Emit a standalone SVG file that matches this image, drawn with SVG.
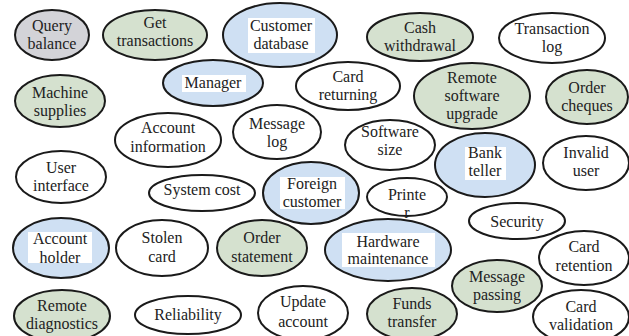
<svg xmlns="http://www.w3.org/2000/svg" width="629" height="336" viewBox="0 0 629 336">
<style>
ellipse{stroke:#1a1a1a;stroke-width:2}
.w{fill:#ffffff}
.g{fill:#d5e1cf}
.b{fill:#cfe0f3}
.q{fill:#d3d3d8}
.bg{fill:#ffffff;stroke:none}
text{font-family:"Liberation Serif","Times New Roman",serif;font-size:16px;fill:#222;text-anchor:middle}
</style>
<rect width="629" height="336" fill="#ffffff"/>
<g id="connectors"></g>
<g id="query-balance"><ellipse class="q" cx="52" cy="35" rx="37" ry="25"/><text x="52" y="31">Query</text><text x="52" y="49">balance</text></g>
<g id="get-transactions"><ellipse class="g" cx="155" cy="35" rx="52" ry="25"/><text x="155" y="28">Get</text><text x="155" y="46">transactions</text></g>
<g id="customer-database"><ellipse class="b" cx="280" cy="35" rx="57" ry="32"/><rect class="bg" x="248" y="18" width="67" height="35"/><text x="281" y="31">Customer</text><text x="281" y="49">database</text></g>
<g id="cash-withdrawal"><ellipse class="g" cx="420" cy="37" rx="53" ry="24"/><text x="420" y="33">Cash</text><text x="420" y="51">withdrawal</text></g>
<g id="transaction-log"><ellipse class="w" cx="552" cy="38" rx="53" ry="25"/><text x="552" y="34">Transaction</text><text x="552" y="52">log</text></g>
<g id="manager"><ellipse class="b" cx="213" cy="83" rx="50" ry="23"/><rect class="bg" x="182" y="75" width="64" height="17"/><text x="213" y="88">Manager</text></g>
<g id="card-returning"><ellipse class="w" cx="348" cy="86" rx="52" ry="24"/><text x="348" y="82">Card</text><text x="348" y="100">returning</text></g>
<g id="remote-software-upgrade"><ellipse class="g" cx="472" cy="96" rx="58" ry="33"/><text x="472" y="83">Remote</text><text x="472" y="101">software</text><text x="472" y="119">upgrade</text></g>
<g id="order-cheques"><ellipse class="g" cx="587" cy="97" rx="41" ry="27"/><text x="587" y="93">Order</text><text x="587" y="111">cheques</text></g>
<g id="machine-supplies"><ellipse class="g" cx="60" cy="101" rx="45" ry="26"/><text x="60" y="98">Machine</text><text x="60" y="116">supplies</text></g>
<g id="account-information"><ellipse class="w" cx="168" cy="140" rx="53" ry="27"/><text x="168" y="133">Account</text><text x="168" y="152">information</text></g>
<g id="message-log"><ellipse class="w" cx="277" cy="132" rx="44" ry="27"/><text x="277" y="129">Message</text><text x="277" y="147">log</text></g>
<g id="software-size"><ellipse class="w" cx="390" cy="145" rx="45" ry="25"/><text x="390" y="137">Software</text><text x="390" y="155">size</text></g>
<g id="bank-teller"><ellipse class="b" cx="485" cy="165" rx="50" ry="32"/><rect class="bg" x="465" y="147" width="41" height="33"/><text x="485" y="158">Bank</text><text x="485" y="176">teller</text></g>
<g id="invalid-user"><ellipse class="w" cx="586" cy="163" rx="43" ry="27"/><text x="586" y="158">Invalid</text><text x="586" y="176">user</text></g>
<g id="user-interface"><ellipse class="w" cx="61" cy="177" rx="45" ry="26"/><text x="61" y="173">User</text><text x="61" y="191">interface</text></g>
<g id="system-cost"><ellipse class="w" cx="202" cy="193" rx="53" ry="18"/><text x="202" y="195">System cost</text></g>
<g id="foreign-customer"><ellipse class="b" cx="311" cy="193" rx="48" ry="31"/><rect class="bg" x="280" y="177" width="65" height="32"/><text x="312" y="189">Foreign</text><text x="312" y="207">customer</text></g>
<g id="printer"><ellipse class="w" cx="407" cy="197" rx="40" ry="19"/><text x="407" y="200">Printe</text><text x="407" y="218">r</text></g>
<g id="security"><ellipse class="w" cx="517" cy="221" rx="48" ry="18"/><text x="517" y="227">Security</text></g>
<g id="account-holder"><ellipse class="b" cx="61" cy="248" rx="48" ry="30"/><rect class="bg" x="28" y="232" width="64" height="31"/><text x="60" y="244">Account</text><text x="60" y="263">holder</text></g>
<g id="stolen-card"><ellipse class="w" cx="162" cy="248" rx="46" ry="28"/><text x="162" y="243">Stolen</text><text x="162" y="262">card</text></g>
<g id="order-statement"><ellipse class="g" cx="262" cy="248" rx="45" ry="28"/><text x="262" y="243">Order</text><text x="262" y="262">statement</text></g>
<g id="hardware-maintenance"><ellipse class="b" cx="388" cy="250" rx="63" ry="31"/><rect class="bg" x="342" y="233" width="93" height="34"/><text x="388" y="247">Hardware</text><text x="388" y="264">maintenance</text></g>
<g id="card-retention"><ellipse class="w" cx="584" cy="258" rx="45" ry="27"/><text x="584" y="252">Card</text><text x="584" y="271">retention</text></g>
<g id="message-passing"><ellipse class="g" cx="497" cy="286" rx="45" ry="26"/><text x="497" y="282">Message</text><text x="497" y="300">passing</text></g>
<g id="remote-diagnostics"><ellipse class="g" cx="62" cy="316" rx="48" ry="26"/><text x="62" y="311">Remote</text><text x="62" y="329">diagnostics</text></g>
<g id="reliability"><ellipse class="w" cx="188" cy="315" rx="53" ry="19"/><text x="188" y="320">Reliability</text></g>
<g id="update-account"><ellipse class="w" cx="303" cy="313" rx="45" ry="27"/><text x="303" y="307">Update</text><text x="303" y="327">account</text></g>
<g id="funds-transfer"><ellipse class="g" cx="412" cy="314" rx="45" ry="26"/><text x="412" y="309">Funds</text><text x="412" y="327">transfer</text></g>
<g id="card-validation"><ellipse class="w" cx="581" cy="317" rx="48" ry="27"/><text x="581" y="312">Card</text><text x="581" y="330">validation</text></g>
</svg>
